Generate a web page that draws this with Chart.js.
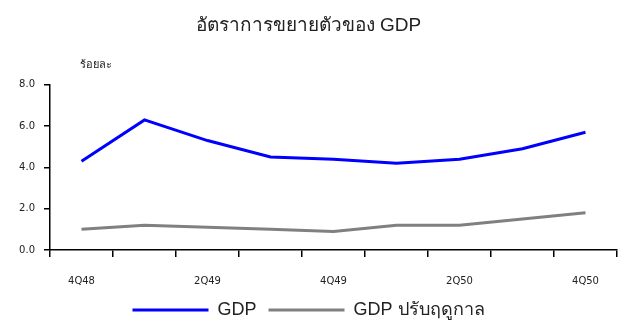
<!DOCTYPE html>
<html lang="th">
<head>
  <meta charset="UTF-8" />
  <title>อัตราการขยายตัวของ GDP</title>
  <script src="https://cdn.jsdelivr.net/npm/chart.js"></script>
  <style>
    html, body { margin: 0; padding: 0; background: #fff; }
    .wrap { width: 622px; height: 329px; }
  </style>
</head>
<body>
  <div class="wrap">
    <canvas id="chartCanvas" width="622" height="329"></canvas>
  </div>

  <script>
    // data
    const quarters = ['4Q48', '1Q49', '2Q49', '3Q49', '4Q49', '1Q50', '2Q50', '3Q50', '4Q50'];
    const gdp = [4.3, 6.3, 5.3, 4.5, 4.4, 4.2, 4.4, 4.9, 5.7];
    const gdpSa = [1.0, 1.2, 1.1, 1.0, 0.9, 1.2, 1.2, 1.5, 1.8];
    const yTicks = [0, 2, 4, 6, 8];

    const chartTitle = 'อัตราการขยายตัวของ GDP';
    const unitLabel = 'ร้อยละ';
    const seriesNames = ['GDP', 'GDP ปรับฤดูกาล'];

    const fontFamily = "'Liberation Sans', Arial, sans-serif";
    const tickFamily = "'DejaVu Sans', sans-serif";

    // small unit text above the y axis
    const unitPlugin = {
      id: 'unitLabel',
      afterDraw(chart) {
        const ctx = chart.ctx;
        ctx.save();
        ctx.font = '11px ' + fontFamily;
        ctx.fillStyle = '#222';
        ctx.textAlign = 'center';
        ctx.textBaseline = 'middle';
        ctx.fillText(unitLabel, 96, 65);
        ctx.restore();
      }
    };

    const ctx = document.getElementById('chartCanvas').getContext('2d');
    const chart = new Chart(ctx, {
      type: 'line',
      data: {
        labels: quarters,
        datasets: [
          {
            label: seriesNames[0],
            data: gdp,
            borderColor: '#0000ff',
            backgroundColor: '#0000ff',
            borderWidth: 3,
            pointRadius: 0,
            tension: 0
          },
          {
            label: seriesNames[1],
            data: gdpSa,
            borderColor: '#808080',
            backgroundColor: '#808080',
            borderWidth: 3,
            pointRadius: 0,
            tension: 0
          }
        ]
      },
      options: {
        responsive: false,
        animation: false,
        layout: { padding: { left: 0, right: 5, top: 0, bottom: 0 } },
        plugins: {
          title: {
            display: true,
            text: chartTitle,
            color: '#222',
            font: { family: fontFamily, size: 19, weight: 'normal' },
            padding: { top: 14, bottom: 48 }
          },
          legend: {
            position: 'bottom',
            labels: {
              color: '#222',
              font: { family: fontFamily, size: 18 },
              boxWidth: 76,
              boxHeight: 3,
              padding: 12,
              generateLabels: (chart) => {
                const items = Chart.defaults.plugins.legend.labels.generateLabels(chart);
                items.forEach(it => { it.lineWidth = 0; });
                return items;
              }
            }
          },
          tooltip: { enabled: false }
        },
        scales: {
          x: {
            offset: true,
            afterFit: (scale) => { scale.height = 39; },
            grid: {
              offset: true,
              drawOnChartArea: false,
              drawTicks: true,
              tickLength: 7,
              color: '#000',
              lineWidth: 1.5
            },
            border: { color: '#000', width: 1.5 },
            ticks: {
              autoSkip: false,
              maxRotation: 0,
              padding: 18,
              color: '#222',
              font: { family: tickFamily, size: 10 },
              callback: (v, i) => (i % 2 === 0 ? quarters[i] : '')
            }
          },
          y: {
            min: yTicks[0],
            max: yTicks[yTicks.length - 1],
            afterFit: (scale) => { scale.width = 50; },
            afterBuildTicks: (scale) => { scale.ticks = yTicks.map(v => ({ value: v })); },
            grid: {
              drawOnChartArea: false,
              drawTicks: true,
              tickLength: 6,
              color: '#000',
              lineWidth: 1.5
            },
            border: { color: '#000', width: 1.5 },
            ticks: {
              padding: 9,
              color: '#222',
              font: { family: tickFamily, size: 10 },
              callback: (v) => v.toFixed(1)
            }
          }
        }
      },
      plugins: [unitPlugin]
    });
  </script>
</body>
</html>
